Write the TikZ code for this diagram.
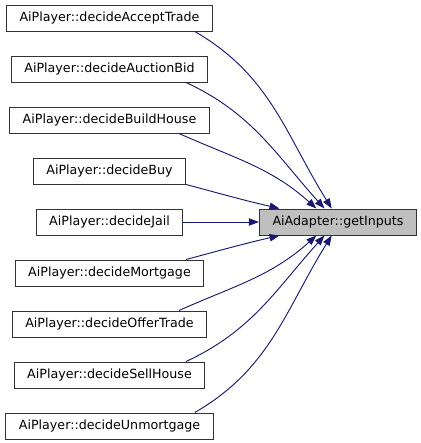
\documentclass[tikz,border=0pt]{standalone}
\usepackage{fontspec}
\setmainfont{DejaVu Sans}
\usetikzlibrary{arrows.meta}
\definecolor{navy}{HTML}{191970}
\definecolor{hitgray}{HTML}{BFBFBF}

\begin{document}
\begin{tikzpicture}[x=0.75pt, y=0.75pt, every node/.style={font=\fontsize{9.5}{11}\selectfont}, >={Triangle[length=7.5pt, width=5.5pt]}, fn/.style={draw=black!80, rectangle, minimum height=19.5pt, inner xsep=9.8pt, inner ysep=0pt, line width=0.75pt}, hit/.style={fn, fill=hitgray}, e/.style={navy, line width=0.7pt, ->}]
	\useasboundingbox (0,0) rectangle (421,-443);
	\node[fn] (s1) at (109.5,-18) {AiPlayer::decideAcceptTrade};
	\node[fn] (s2) at (109.5,-69) {AiPlayer::decideAuctionBid};
	\node[fn] (s3) at (109.5,-120) {AiPlayer::decideBuildHouse};
	\node[fn] (s4) at (109.5,-171) {AiPlayer::decideBuy};
	\node[fn] (s5) at (109.5,-222) {AiPlayer::decideJail};
	\node[fn] (s6) at (109.5,-273) {AiPlayer::decideMortgage};
	\node[fn] (s7) at (109.5,-324) {AiPlayer::decideOfferTrade};
	\node[fn] (s8) at (109.5,-375) {AiPlayer::decideSellHouse};
	\node[fn] (s9) at (109.5,-426) {AiPlayer::decideUnmortgage};
	\node[hit] (t) at (338,-222) {AiAdapter::getInputs};
	\draw[e] (s1.-9) to[out=-30, in=122] (t.115);
	\draw[e] (s2.-10) to[out=-25, in=132] (t.135);
	\draw[e] (s3.-11) to[out=-24, in=138] (t.148);
	\draw[e] (s4.-10) to[out=-15, in=167] (t.167);
	\draw[e] (s5) -- (t);
	\draw[e] (s6.10) to[out=15, in=-167] (t.-167);
	\draw[e] (s7.11) to[out=24, in=-138] (t.-148);
	\draw[e] (s8.10) to[out=25, in=-132] (t.-135);
	\draw[e] (s9.9) to[out=30, in=-122] (t.-115);
\end{tikzpicture}
\end{document}
